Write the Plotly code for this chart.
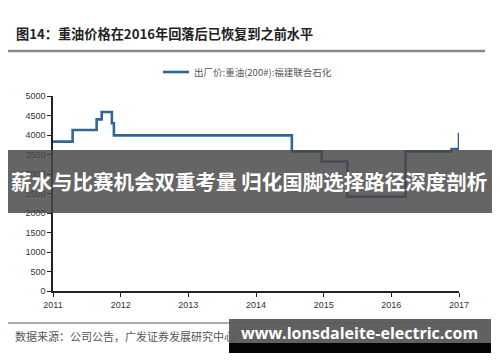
import plotly.graph_objects as go

# ---- data ----
years = [2011.0, 2011.29, 2011.645, 2011.72, 2011.87, 2011.90, 2014.53, 2014.97,
         2015.35, 2016.21, 2016.89, 2017.0]
price = [3830, 4130, 4400, 4590, 4300, 3990, 3580, 3320, 2420, 3580, 3640, 4060]
x_ticks = [2011, 2012, 2013, 2014, 2015, 2016, 2017]
x_labels = ["2011", "2012", "2013", "2014", "2015", "2016", "2017"]
y_ticks = [0, 500, 1000, 1500, 2000, 2500, 3000, 3500, 4000, 4500, 5000]
series_name = "出厂价:重油(200#):福建联合石化"
title_text = "图14：重油价格在2016年回落后已恢复到之前水平"
source_text = "数据来源：公司公告，广发证券发展研究中心"
overlay_text = "薪水与比赛机会双重考量 归化国脚选择路径深度剖析"
watermark_text = "www.lonsdaleite-electric.com"

# page has an 8px body margin; figure sized to fit the 500x362 window
OFF = 8
W, H = 500 - OFF, 362 - OFF
PL, PR, PT, PB = 53, 459, 96, 291          # plot area in window pixels
L, R, T, B = PL - OFF, W - (PR - OFF), PT - OFF, H - (PB - OFF)
PW, PH = PR - PL, PB - PT
LINE_COLOR = "#2f6696"


def px(x):
    return (x - PL) / PW


def py(y):
    return (PB - y) / PH


fig = go.Figure()
fig.add_trace(go.Scatter(
    x=years, y=price, mode="lines", line_shape="hv",
    line=dict(color=LINE_COLOR, width=2.6), name=series_name,
    cliponaxis=False, showlegend=False,
))

cjk = "Noto Sans CJK SC"
fig.update_layout(
    width=W, height=H, margin=dict(l=L, r=R, t=T, b=B, pad=0, autoexpand=False),
    paper_bgcolor="white", plot_bgcolor="white",
    font=dict(family="Liberation Sans, Arial, sans-serif", size=9, color="#333"),
    showlegend=False,
    xaxis=dict(range=[2011, 2017], tickvals=x_ticks, ticktext=x_labels,
               automargin=False,
               showgrid=False, zeroline=False, showline=True, linecolor="#222",
               linewidth=1.5, ticks="outside", ticklen=4, tickcolor="#222",
               tickfont=dict(size=9, color="#333")),
    yaxis=dict(range=[0, 5000], tickvals=y_ticks, showgrid=False, zeroline=False,
               automargin=False,
               showline=True, linecolor="#222", linewidth=1.5, ticks="outside",
               ticklen=4, tickcolor="#222", tickfont=dict(size=9, color="#333")),
)

shapes = [
    # legend sample
    dict(type="line", xref="paper", yref="paper", x0=px(163), x1=px(189),
         y0=py(72), y1=py(72), line=dict(color=LINE_COLOR, width=2.6)),
    dict(type="line", xref="paper", yref="paper", x0=px(8), x1=px(485),
         y0=py(51), y1=py(51), line=dict(color="#8a8a8a", width=2.5)),
    dict(type="line", xref="paper", yref="paper", x0=px(8), x1=px(485),
         y0=py(323), y1=py(323), line=dict(color="#555", width=1)),
    dict(type="rect", xref="paper", yref="paper", x0=px(5), x1=px(495),
         y0=py(213), y1=py(150), fillcolor="rgba(72,72,72,0.84)", line_width=0,
         layer="above"),
    dict(type="rect", xref="paper", yref="paper", x0=px(229), x1=px(491),
         y0=py(343), y1=py(319), fillcolor="rgba(88,88,88,0.95)", line_width=0,
         layer="above"),
    dict(type="rect", xref="paper", yref="paper", x0=px(229), x1=px(491),
         y0=py(353), y1=py(343), fillcolor="#050505", line_width=0,
         layer="above"),
]
fig.update_layout(shapes=shapes)

fig.add_annotation(xref="paper", yref="paper", x=px(192), y=py(72),
                   xanchor="left", yanchor="middle", showarrow=False,
                   text=series_name, font=dict(family=cjk, size=9.5, color="#555"))
fig.add_annotation(xref="paper", yref="paper", x=px(14), y=py(33),
                   xanchor="left", yanchor="middle", showarrow=False,
                   text="<b>" + title_text + "</b>",
                   font=dict(family=cjk, size=13.2, color="#222"))
fig.add_annotation(xref="paper", yref="paper", x=px(13), y=py(336),
                   xanchor="left", yanchor="middle", showarrow=False,
                   text=source_text, font=dict(family=cjk, size=11, color="#555"))
fig.add_annotation(xref="paper", yref="paper", x=px(249), y=py(181),
                   xanchor="center", yanchor="middle", showarrow=False,
                   text="<b>" + overlay_text + "</b>",
                   font=dict(family=cjk, size=20.5, color="white"))
fig.add_annotation(xref="paper", yref="paper", x=px(359), y=py(333),
                   xanchor="center", yanchor="middle", showarrow=False,
                   text="<b>" + watermark_text + "</b>",
                   font=dict(family="Open Sans, DejaVu Sans, sans-serif", size=16,
                             color="white"))

fig.write_html("out.html")
